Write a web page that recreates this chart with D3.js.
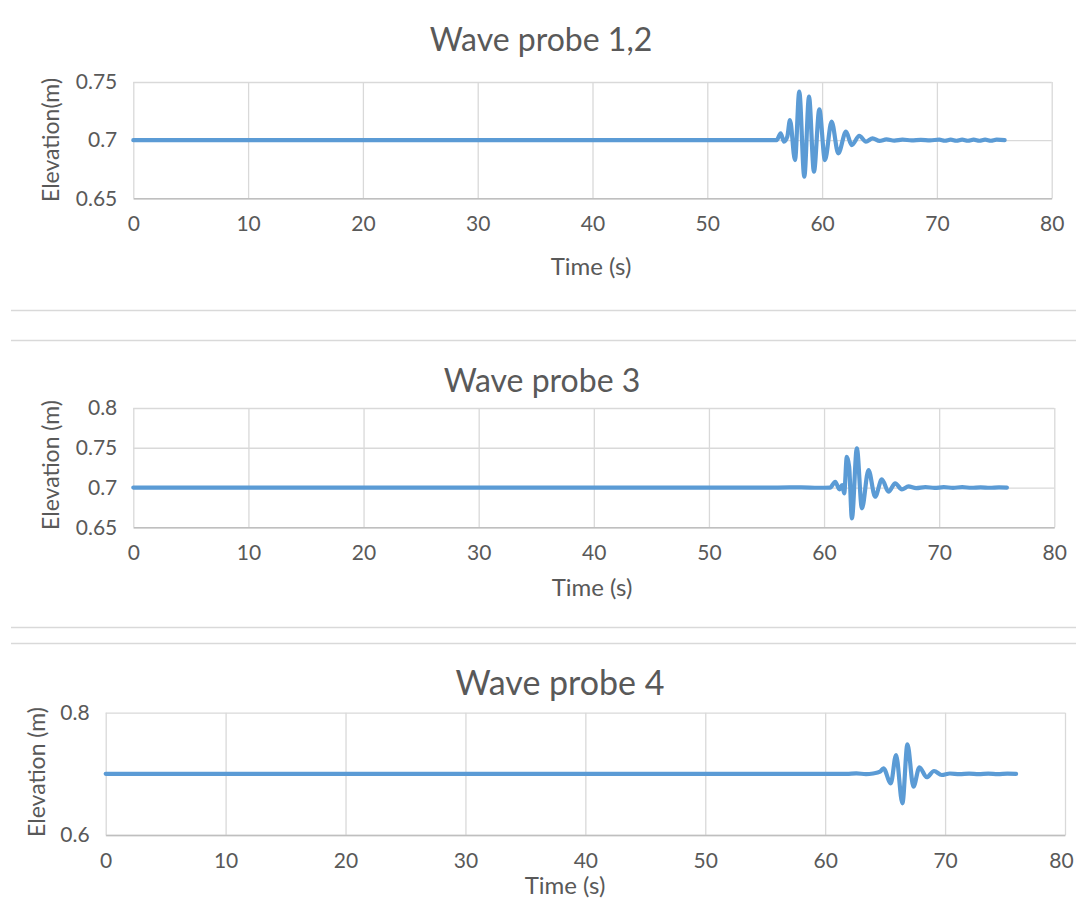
<!DOCTYPE html>
<html>
<head>
<meta charset="utf-8">
<script src="https://cdn.jsdelivr.net/npm/d3@7"></script>
<style>
  html, body { margin: 0; padding: 0; background: #ffffff; }
  svg { display: block; }
  text { font-family: Lato, "Open Sans", sans-serif; fill: #595959; }
</style>
</head>
<body>
<svg id="chart" width="1076" height="899"></svg>
<script>
// ---- Data -------------------------------------------------------------
const xTicks = [0, 10, 20, 30, 40, 50, 60, 70, 80];

const probe12Title = "Wave probe 1,2";
const probe12YTicks = [0.65, 0.7, 0.75];
const probe12Time = [0, 20, 40, 55, 56.04, 56.39, 56.68, 56.97, 57.2, 57.64, 58.01, 58.45, 58.86,
  59.29, 59.76, 60.25, 60.83, 61.41, 62.08, 62.58, 63.24, 63.82, 64.4, 65.0, 65.6, 66.3,
  67.0, 67.8, 68.6, 69.4, 70.2, 70.7, 71.2, 71.7, 72.2, 72.7, 73.2, 73.7, 74.2, 74.7, 75.2, 75.9];
const probe12Elev = [0.7, 0.7, 0.7, 0.7, 0.7, 0.7059, 0.6987, 0.703, 0.7173, 0.6829, 0.7417, 0.6686, 0.7374,
  0.6729, 0.7265, 0.6829, 0.7159, 0.6887, 0.7073, 0.6958, 0.7036, 0.6987, 0.7016, 0.6994, 0.7006, 0.6996,
  0.7004, 0.6998, 0.7003, 0.6998, 0.7004, 0.6995, 0.7005, 0.6995, 0.7005, 0.6995, 0.7005, 0.6995, 0.7005, 0.6995, 0.7004, 0.7];

const probe3Title = "Wave probe 3";
const probe3YTicks = [0.65, 0.7, 0.75, 0.8];
const probe3Time = [0, 20, 40, 56, 58, 59.5, 60.53, 60.97, 61.34, 61.57, 61.75, 61.98, 62.18, 62.42,
  62.85, 63.29, 63.86, 64.44, 65.02, 65.6, 66.18, 66.76, 67.33, 68.0, 68.8, 69.6, 70.4,
  71.2, 72.0, 72.8, 73.6, 74.4, 75.2, 75.88];
const probe3Elev = [0.7, 0.7, 0.7, 0.7, 0.7003, 0.6997, 0.7, 0.7073, 0.6977, 0.7031, 0.6927, 0.7387, 0.7262, 0.6613,
  0.7493, 0.6738, 0.722, 0.6884, 0.7103, 0.6947, 0.7052, 0.6977, 0.7014, 0.6993, 0.7006, 0.6995, 0.7004,
  0.6996, 0.7004, 0.6997, 0.7003, 0.6997, 0.7003, 0.7];

const probe4Title = "Wave probe 4";
const probe4YTicks = [0.6, 0.8];
const probe4Time = [0, 20, 40, 58, 61.8, 62.6, 63.4, 64.0, 64.58, 64.86, 65.47, 65.91, 66.44, 66.86,
  67.36, 67.86, 68.47, 69.08, 69.72, 70.4, 71.2, 72.0, 72.8, 73.6, 74.4, 75.2, 75.92];
const probe4Elev = [0.7, 0.7, 0.7, 0.7, 0.7, 0.7008, 0.6995, 0.7006, 0.7035, 0.709, 0.6845, 0.7308, 0.6518, 0.7483,
  0.679, 0.7107, 0.6944, 0.7047, 0.6981, 0.7006, 0.6995, 0.7005, 0.6996, 0.7004, 0.6996, 0.7003, 0.7];

// ---- Layout -----------------------------------------------------------
const panels = [
  { title: probe12Title, time: probe12Time, elev: probe12Elev, yTicks: probe12YTicks,
    yLabel: "Elevation(m)", yDomain: [0.65, 0.75], titleSize: 32,
    left: 133.3, right: 1051.7, top: 82, bottom: 198.3,
    titleX: 541, titleY: 51, xTitleX: 591, xTitleY: 275, yTitleX: 51, yTitleY: 140 },
  { title: probe3Title, time: probe3Time, elev: probe3Elev, yTicks: probe3YTicks,
    yLabel: "Elevation (m)", yDomain: [0.65, 0.8], titleSize: 32,
    left: 133.3, right: 1054.3, top: 408, bottom: 527.3,
    titleX: 542, titleY: 392, xTitleX: 592, xTitleY: 596, yTitleX: 51, yTitleY: 465 },
  { title: probe4Title, time: probe4Time, elev: probe4Elev, yTicks: probe4YTicks,
    yLabel: "Elevation (m)", yDomain: [0.6, 0.8], titleSize: 34,
    left: 105.7, right: 1065, top: 712.7, bottom: 835,
    titleX: 560, titleY: 695, xTitleX: 565, xTitleY: 894, yTitleX: 37, yTitleY: 772 }
];

const separators = [310, 340, 627, 643];

const svg = d3.select("#chart");

// thin rules between the stacked charts
svg.selectAll("line.sep").data(separators).enter().append("line")
  .attr("class", "sep")
  .attr("x1", 11).attr("x2", 1076)
  .attr("y1", d => d + 0.5).attr("y2", d => d + 0.5)
  .attr("stroke", "#d9d9d9").attr("stroke-width", 1.5);

panels.forEach(p => {
  const g = svg.append("g");
  const x = d3.scaleLinear().domain([0, 80]).range([p.left, p.right]);
  const y = d3.scaleLinear().domain(p.yDomain).range([p.bottom, p.top]);

  // vertical gridlines
  g.append("g")
    .attr("transform", `translate(0,${p.bottom})`)
    .call(d3.axisBottom(x).tickValues(xTicks).tickSize(-(p.bottom - p.top)).tickFormat(""))
    .call(a => a.select(".domain").remove())
    .call(a => a.selectAll(".tick line").attr("stroke", "#d9d9d9").attr("stroke-width", 1.3));

  // horizontal gridlines
  g.append("g")
    .attr("transform", `translate(${p.left},0)`)
    .call(d3.axisLeft(y).tickValues(p.yTicks).tickSize(-(p.right - p.left)).tickFormat(""))
    .call(a => a.select(".domain").remove())
    .call(a => a.selectAll(".tick line").attr("stroke", "#d9d9d9").attr("stroke-width", 1.3));

  // bottom axis line + labels
  const xa = g.append("g")
    .attr("transform", `translate(0,${p.bottom})`)
    .call(d3.axisBottom(x).tickValues(xTicks).tickSize(0).tickPadding(18).tickFormat(d3.format("d")));
  xa.select(".domain").attr("stroke", "#bfbfbf").attr("stroke-width", 1.5);
  xa.selectAll("text").style("font-size", "21px").attr("fill", "#595959");
  // keep the last label inside the page when the plot runs close to the edge
  xa.selectAll("text").filter(d => d === 80 && x(80) > 1060).attr("dx", "-4");

  // y tick labels
  const ya = g.append("g")
    .attr("transform", `translate(${p.left},0)`)
    .call(d3.axisLeft(y).tickValues(p.yTicks).tickSize(0).tickPadding(16).tickFormat(d => String(d)));
  ya.select(".domain").remove();
  ya.selectAll("text").style("font-size", "21px").attr("fill", "#595959");

  // series
  const line = d3.line()
    .x((d, i) => x(p.time[i]))
    .y((d, i) => y(p.elev[i]))
    .curve(d3.curveMonotoneX);
  g.append("path")
    .datum(p.time)
    .attr("d", line)
    .attr("fill", "none")
    .attr("stroke", "#5b9bd5")
    .attr("stroke-width", 4.2)
    .attr("stroke-linejoin", "round")
    .attr("stroke-linecap", "round");

  // titles
  g.append("text")
    .attr("x", p.titleX).attr("y", p.titleY)
    .attr("text-anchor", "middle")
    .style("font-size", p.titleSize + "px")
    .text(p.title);

  g.append("text")
    .attr("x", p.xTitleX).attr("y", p.xTitleY)
    .attr("text-anchor", "middle")
    .style("font-size", "24px")
    .text("Time (s)");

  g.append("text")
    .attr("transform", `translate(${p.yTitleX},${p.yTitleY}) rotate(-90)`)
    .attr("text-anchor", "middle")
    .attr("dy", "0.35em")
    .style("font-size", "23px")
    .text(p.yLabel);
});
</script>
</body>
</html>
